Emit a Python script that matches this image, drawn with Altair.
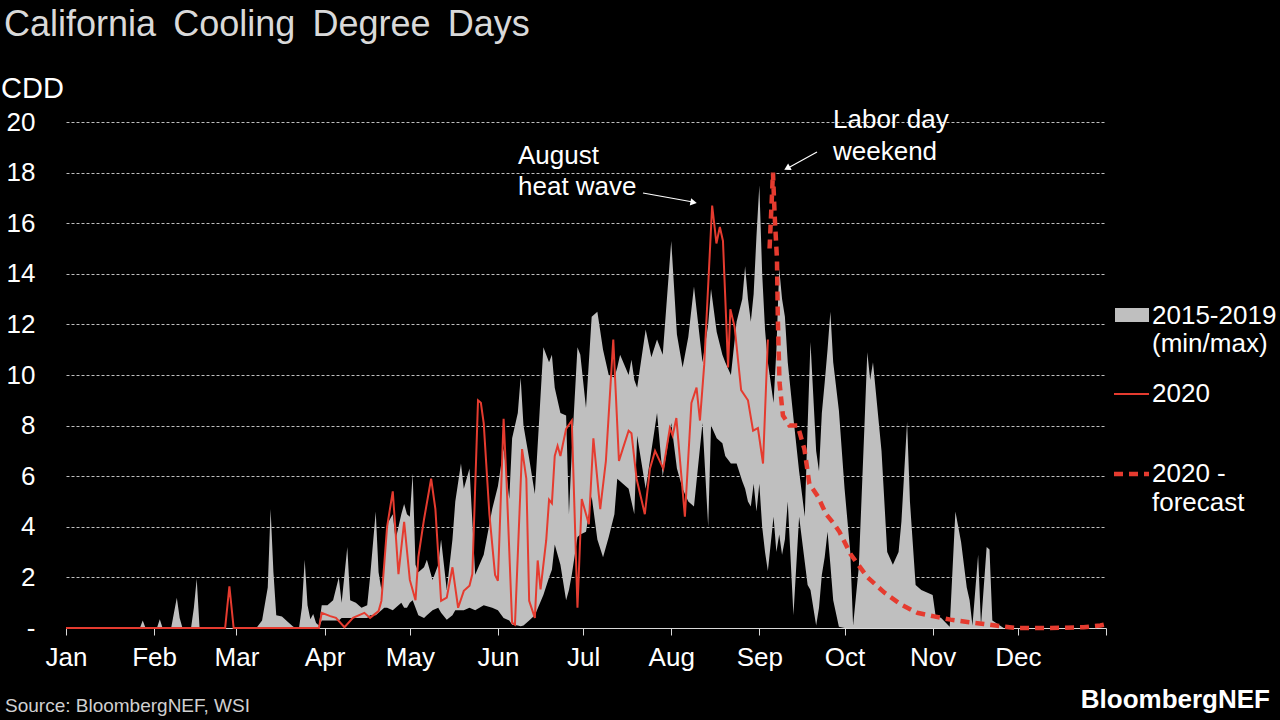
import altair as alt
import pandas as pd

FONT = "Liberation Sans"
RED = "#e53b2f"
GREY = "#bfbfbf"

# ---- 2015-2019 min/max band (day of year, CDD) ----
band_days = (
    [0, 26, 27, 28, 32, 33, 34, 37, 38, 39, 40, 41, 44, 45, 46, 47, 67, 69, 71, 72, 73, 74, 76, 78, 80, 82, 83, 84, 85, 86, 87, 88, 89]
    + [90, 92, 94, 96, 97, 99, 100, 102, 104, 106, 107, 109, 110, 111, 112, 113, 115, 116, 118, 119, 120]
    + [121, 122, 123, 124, 126, 127, 129, 131, 132, 134, 136, 137, 139, 140, 142, 144, 147, 150]
    + [152, 154, 156, 157, 159, 160, 161, 163, 165, 168, 170, 171, 172, 174, 176, 177, 178, 180, 181]
    + [183, 185, 187, 189, 191, 193, 194, 195, 198, 199, 200, 201, 204, 206, 208, 210, 213]
    + [215, 217, 219, 221, 224, 226, 227, 229, 231, 232, 234, 236, 238, 239, 240, 241, 242, 243]
    + [244, 245, 246, 247, 249, 250, 251, 252, 253, 254, 256, 258, 260, 261, 262, 264, 265, 266, 267, 268, 269, 270, 272]
    + [274, 276, 277, 279, 281, 282, 283, 284, 287, 289, 291, 293, 294, 296, 297, 299, 301, 303]
    + [305, 306, 308, 311, 313, 315, 317, 318, 319, 321, 322, 324, 325, 326, 330, 366]
)
band_min = (
    [0, 0, 0, 0, 0, 0, 0, 0, 0, 0, 0, 0, 0, 0, 0, 0, 0, 0, 0, 0, 0, 0, 0, 0, 0, 0, 0, 0, 0, 0, 0, 0, 0]
    + [0.3, 0.3, 0.3, 0.3, 0.4, 0.4, 0.4, 0.4, 0.4, 0.4, 0.5, 0.5, 0.6, 0.7, 0.8, 0.8, 0.7, 0.8, 1.0, 0.8, 0.8]
    + [1.0, 1.1, 0.8, 0.5, 0.4, 0.5, 0.7, 0.8, 0.6, 0.33, 0.5, 0.7, 0.7, 0.7, 0.8, 0.7, 0.9, 0.8]
    + [0.7, 0.4, 0.3, 0.13, 0.1, 0.07, 0.1, 0.3, 0.5, 1.3, 2.0, 2.3, 3.3, 2.5, 1.1, 1.5, 2.1, 3.6, 3.7]
    + [3.8, 5.2, 3.5, 2.8, 3.6, 4.5, 5.9, 5.8, 5.5, 5.0, 4.5, 7.6, 5.5, 7.0, 8.5, 6.0, 8.1]
    + [6.3, 5.5, 5.0, 4.8, 8.1, 4.0, 8.0, 7.5, 7.3, 6.8, 6.5, 6.5, 5.8, 5.5, 5.0, 4.8, 5.7, 4.6]
    + [5.7, 4.0, 3.0, 2.25, 4.4, 3.0, 3.7, 2.9, 3.5, 5.0, 0.5, 4.4, 2.6, 1.7, 1.5, 0.1, 0.8, 2.1, 2.8, 3.8, 2.5, 1.1, 0.05]
    + [0, 0, 0, 0, 0, 0, 0, 0, 0, 0, 0, 0, 0, 0, 0, 0, 0, 0]
    + [0, 0, 0, 0, 0, 0, 0, 0, 0, 0, 0, 0, 0, 0, 0, 0]
)
band_max = (
    [0, 0, 0.3, 0, 0, 0.35, 0, 0, 0.6, 1.2, 0.4, 0, 0, 0.8, 1.95, 0, 0, 0.3, 1.6, 4.7, 2.2, 0.5, 0.45, 0.25, 0.05, 0, 0.8, 2.7, 0.9, 0.35, 0.55, 0.2, 0.1]
    + [0.9, 0.9, 1.1, 2.0, 1.0, 3.2, 1.1, 1.0, 0.8, 0.9, 2.0, 4.6, 2.2, 1.5, 2.5, 4.1, 4.5, 3.5, 4.5, 4.9, 4.5]
    + [4.4, 6.1, 2.5, 2.2, 2.4, 2.7, 1.9, 2.5, 3.5, 1.5, 3.5, 5.0, 6.5, 5.5, 6.3, 2.1, 2.9, 4.7]
    + [5.6, 7.1, 5.1, 7.5, 8.5, 9.9, 8.0, 6.7, 5.3, 11.1, 10.5, 10.8, 9.5, 8.5, 8.4, 4.5, 7.0, 11.1, 10.8]
    + [8.7, 12.3, 12.5, 11.0, 10.0, 9.9, 10.3, 10.8, 10.0, 10.6, 9.8, 9.5, 11.8, 10.7, 11.4, 10.8, 15.3]
    + [11.6, 10.3, 11.5, 13.5, 10.5, 12.0, 13.4, 11.7, 10.8, 10.5, 10.0, 12.1, 13.0, 14.3, 13.0, 12.1, 13.2, 15.5]
    + [17.5, 14.0, 11.8, 10.5, 8.9, 11.0, 14.2, 13.0, 12.3, 10.5, 8.3, 6.2, 4.4, 8.0, 11.3, 7.0, 6.2, 8.5, 9.7, 11.0, 12.5, 10.5, 8.6]
    + [5.5, 3.0, 0.1, 2.4, 8.0, 10.9, 9.8, 10.5, 7.0, 3.0, 2.5, 3.0, 4.2, 8.15, 5.0, 1.7, 1.5, 1.4]
    + [1.3, 0.5, 0.4, 0.05, 4.6, 3.4, 1.6, 1.1, 0.1, 2.9, 0.1, 3.2, 3.1, 0.3, 0, 0]
)

# ---- 2020 actual ----
days_2020 = [0, 56, 57.5, 59, 89, 90, 93, 95, 98, 101,
             105, 107, 110, 111, 113, 115, 117, 119, 121, 123,
             124, 126, 128.5, 130, 132, 134, 136, 138, 140, 142,
             143, 145, 146, 147, 149, 151, 152, 154, 155, 157,
             158, 160.5, 162, 163, 165, 166, 167, 169, 170, 171,
             172, 173, 174, 176, 178, 180, 181.5, 184, 185.6, 188,
             190, 192.6, 194.6, 196, 198, 199, 200.8, 203.7, 205.5, 207.3,
             210.2, 212.5, 213.5, 214.8, 217.8, 220.1, 221.9, 223.1, 224.6, 227.4,
             228.9, 230.1, 231.2, 233, 233.8, 235.3, 237.6, 240, 241.8, 243.5,
             245.3, 247]
cdd_2020 = [0, 0, 1.65, 0, 0, 0.6, 0.47, 0.4, 0.03, 0.4,
            0.6, 0.4, 0.67, 1.07, 4.0, 5.4, 2.13, 4.2, 1.9, 1.1,
            2.8, 4.3, 5.9, 4.7, 1.07, 1.2, 2.4, 0.8, 1.47, 1.67,
            2.13, 9.0, 8.9, 8.1, 4.5, 2.1, 1.87, 8.27, 5.9, 0.2,
            0.13, 7.07, 5.9, 1.07, 0.4, 2.67, 1.53, 3.47, 5.07, 4.93,
            6.8, 7.2, 6.8, 7.87, 8.2, 0.8, 5.1, 4.1, 7.5, 4.7,
            6.6, 11.4, 6.6, 7.1, 7.8, 7.7, 5.9, 4.5, 6.3, 7.0,
            6.3, 7.9, 7.6, 8.3, 4.4, 8.9, 9.5, 8.2, 10.4, 16.7,
            15.2, 15.85, 15.3, 10.3, 12.6, 11.9, 9.4, 9.0, 7.8, 7.9,
            6.5, 11.4]

# ---- 2020 forecast ----
days_fc = [247.6, 248.8, 249.4, 250.2, 250.5, 251.1, 252.3, 254.6, 257.5, 259.9,
           261.6, 264.6, 267.5, 270.4, 272.2, 276.2, 282.1, 288, 293.8, 299.6,
           305.5, 311.3, 317.2, 323, 328.9, 334.7, 346.4, 358.1, 364, 366]
cdd_fc = [15.0, 18.0, 16.3, 14.6, 12.3, 9.7, 8.4, 8.0, 8.0, 7.05,
          5.7, 5.2, 4.5, 4.1, 3.8, 2.9, 2.0, 1.4, 0.93, 0.6,
          0.46, 0.33, 0.24, 0.16, 0.07, 0, 0, 0.03, 0.1, 0.15]

month_starts = [0, 31, 60, 91, 121, 152, 182, 213, 244, 274, 305, 335, 366]
month_labels = ["Jan", "Feb", "Mar", "Apr", "May", "Jun", "Jul", "Aug", "Sep", "Oct", "Nov", "Dec", ""]
y_ticks = [0, 2, 4, 6, 8, 10, 12, 14, 16, 18, 20]

band_df = pd.DataFrame({"day": band_days, "lo": band_min, "hi": band_max})
act_df = pd.DataFrame({"day": days_2020, "cdd": cdd_2020})
fc_df = pd.DataFrame({"day": days_fc, "cdd": cdd_fc})

W, H = 1040, 506
L, T = 66, 122

lab_arr = "[" + ",".join("'%s'" % s for s in month_labels) + "]"
pos_arr = "[" + ",".join(str(v) for v in month_starts) + "]"
x_label_expr = "%s[indexof(%s, datum.value)]" % (lab_arr, pos_arr)

x_scale = alt.Scale(domain=[0, 366], nice=False, zero=False)
y_scale = alt.Scale(domain=[0, 20], nice=False)

x_axis = alt.Axis(values=month_starts, labelExpr=x_label_expr, title=None, grid=False,
                  domainColor="#d9d9d9", domainWidth=1.2, tickColor="#d9d9d9", tickSize=7,
                  labelColor="white", labelFont=FONT, labelFontSize=26, labelPadding=9,
                  labelFlush=False, labelOverlap=False)
y_axis = alt.Axis(values=y_ticks, labelExpr="datum.value == 0 ? '-' : datum.value", title=None,
                  grid=True, gridColor="#bfbfbf", gridDash=[3, 2], gridWidth=1,
                  domain=False, ticks=False, tickSize=0, labelPadding=31,
                  labelColor="white", labelFont=FONT, labelFontSize=26)

band = alt.Chart(band_df).mark_area(color=GREY, opacity=1).encode(
    x=alt.X("day:Q", scale=x_scale, axis=x_axis),
    y=alt.Y("lo:Q", scale=y_scale, axis=y_axis),
    y2="hi:Q",
)
actual = alt.Chart(act_df).mark_line(color=RED, strokeWidth=2).encode(
    x=alt.X("day:Q", scale=x_scale), y=alt.Y("cdd:Q", scale=y_scale))
forecast = alt.Chart(fc_df).mark_line(color=RED, strokeWidth=4.5, strokeDash=[9, 6]).encode(
    x=alt.X("day:Q", scale=x_scale), y=alt.Y("cdd:Q", scale=y_scale))

one = pd.DataFrame({"k": [0]})


def txt(s, x, y, size=26, color="white", align="left", baseline="middle", weight="normal"):
    return alt.Chart(one).mark_text(text=s, align=align, baseline=baseline, fontSize=size,
                                    font=FONT, color=color, fontWeight=weight).encode(
        x=alt.value(x - L), y=alt.value(y - T))


def rule(x1, y1, x2, y2, color="white", width=1.2, dash=None):
    kw = dict(color=color, strokeWidth=width)
    if dash:
        kw["strokeDash"] = dash
    return alt.Chart(one).mark_rule(**kw).encode(
        x=alt.value(x1 - L), y=alt.value(y1 - T), x2=alt.value(x2 - L), y2=alt.value(y2 - T))


def head(x, y, angle):
    return alt.Chart(one).mark_point(shape="triangle-right", filled=True, color="white",
                                     size=55, angle=angle, opacity=1).encode(
        x=alt.value(x - L), y=alt.value(y - T))


deco = [
    txt("California \u2009Cooling \u2009Degree \u2009Days", 4, 36, size=36, color="#d9d9d9",
        baseline="alphabetic"),
    txt("CDD", 1, 98, size=29, baseline="alphabetic"),
    txt("August", 518, 156),
    txt("heat wave", 518, 187),
    rule(643, 193, 693, 202),
    head(693.6, 202.4, 10.5),
    txt("Labor day", 833, 120),
    txt("weekend", 833, 152),
    rule(817, 152, 788, 168),
    head(787.1, 168.3, 151.4),
    # legend
    alt.Chart(one).mark_rect(color=GREY).encode(
        x=alt.value(1115 - L), x2=alt.value(1149 - L), y=alt.value(308 - T), y2=alt.value(322 - T)),
    txt("2015-2019", 1152, 316),
    txt("(min/max)", 1152, 344),
    rule(1114, 394, 1149, 394, color=RED, width=2),
    txt("2020", 1152, 394),
    rule(1114, 474, 1149, 474, color=RED, width=4.5, dash=[9, 6]),
    txt("2020 -", 1152, 474),
    txt("forecast", 1152, 503),
    txt("Source: BloombergNEF, WSI", 5, 712, size=19, color="#d0d0d0", baseline="alphabetic"),
    txt("BloombergNEF", 1270, 708, size=26, align="right", baseline="alphabetic", weight="bold"),
]

chart = alt.layer(band, actual, forecast, *deco).properties(
    width=W, height=H,
    padding={"left": L, "top": T, "right": 1280 - L - W, "bottom": 720 - T - H},
    autosize=alt.AutoSizeParams(type="none"),
    background="black",
).configure_view(stroke=None)

chart.save("out.html", embed_options={"renderer": "svg", "actions": False})
